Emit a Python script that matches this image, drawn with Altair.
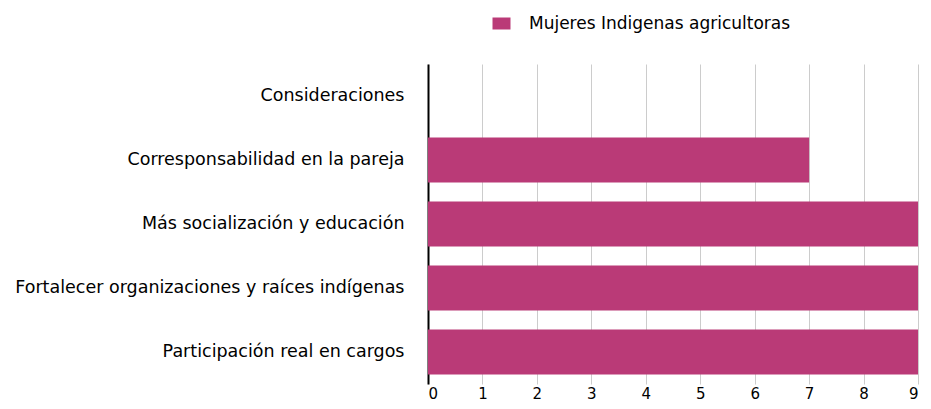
import altair as alt
import pandas as pd

categories = [
    "Consideraciones",
    "Corresponsabilidad en la pareja",
    "Más socialización y educación",
    "Fortalecer organizaciones y raíces indígenas",
    "Participación real en cargos",
]
values = [0, 7, 9, 9, 9]
series = "Mujeres Indigenas agricultoras"
ticks = list(range(0, 10))

df = pd.DataFrame({"cat": categories, "val": values, "serie": [series] * len(categories)})

FONT = "DejaVu Sans"

chart = alt.Chart(df).mark_bar().encode(
    y=alt.Y("cat:N", sort=categories, title=None,
            scale=alt.Scale(paddingInner=0.3, paddingOuter=0.15),
            axis=alt.Axis(ticks=False, domain=True, domainColor="#000000", domainWidth=2,
                          labelFont=FONT, labelFontSize=17.5, labelColor="#000000",
                          labelPadding=24, labelLimit=600, grid=False)),
    x=alt.X("val:Q", title=None,
            scale=alt.Scale(domain=[0, 9], nice=False),
            axis=alt.Axis(values=ticks, format="d", domain=False, ticks=False,
                          grid=True, gridColor="#cccccc", gridWidth=1,
                          labelFont=FONT, labelFontSize=15, labelColor="#000000",
                          labelPadding=2)),
    color=alt.Color("serie:N", title=None,
                    scale=alt.Scale(range=["#BA3A77"]),
                    legend=alt.Legend(orient="none", legendX=65, legendY=-49,
                                      symbolType="M-1.5,-1L1.5,-1L1.5,1L-1.5,1Z",
                                      symbolSize=144, symbolStrokeWidth=0,
                                      labelFont=FONT, labelFontSize=17, labelLimit=600,
                                      labelColor="#000000", labelOffset=19)),
).properties(
    width=490, height=320,
    autosize=alt.AutoSizeParams(type="none"),
    padding={"left": 420, "top": 56, "right": 5, "bottom": 17},
).configure_view(stroke=None)

chart.save("out.html", embed_options={"renderer": "svg", "actions": False})
